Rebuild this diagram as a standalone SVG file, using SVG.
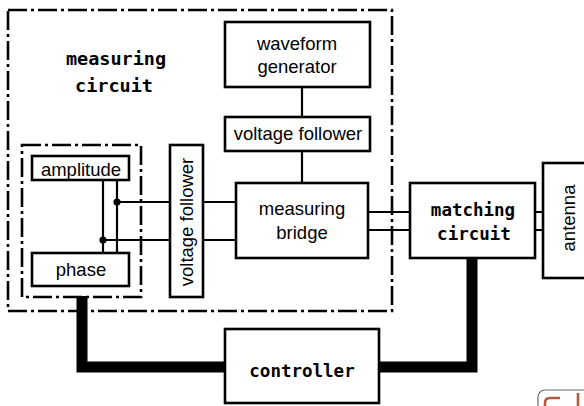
<svg xmlns="http://www.w3.org/2000/svg" width="584" height="406" viewBox="0 0 584 406">
<style>
.box{fill:#fff;stroke:#000;stroke-width:2.6}
.dd{fill:none;stroke:#000;stroke-width:2.6;stroke-dasharray:19 4 3 4}
.t{font-family:"Liberation Sans",Arial,sans-serif;font-size:18.5px;fill:#000;text-anchor:middle}
.b{font-family:"DejaVu Sans Mono","Liberation Mono",monospace;font-weight:bold;font-size:17.5px;fill:#000;text-anchor:middle}
.w{fill:none;stroke:#000;stroke-width:2.2}
.thick{fill:none;stroke:#000;stroke-width:11}
</style>
<rect width="584" height="406" fill="#fff"/>
<g id="measuring-circuit">
<rect class="dd" x="8" y="10" width="384" height="301"/>
<text class="b" x="116" y="65" style="font-size:18.5px">measuring</text>
<text class="b" x="114" y="92" style="font-size:18.5px">circuit</text>
</g>
<g id="sensor-group">
<rect class="dd" x="22" y="145" width="119" height="152"/>
</g>
<g id="connectors">
<path class="thick" d="M82,296 V367 H226"/>
<path class="thick" d="M378,367 H472 V258"/>
<path class="w" d="M103,180 V253 M117,180 V253 M117,202 H170 M103,240 H170"/>
<path class="w" d="M203,202 H236 M203,240 H236"/>
<path class="w" d="M302,87 V117 M302,151 V183"/>
<path class="w" d="M368,212 H410 M368,230 H410"/>
<path class="w" d="M535,212 H543 M535,230 H543"/>
<circle cx="117" cy="202" r="3.6"/>
<circle cx="103" cy="240" r="3.6"/>
</g>
<g id="waveform-generator">
<rect class="box" x="225" y="22" width="145" height="65"/>
<text class="t" x="297" y="50">waveform</text>
<text class="t" x="297" y="73">generator</text>
</g>
<g id="voltage-follower-h">
<rect class="box" x="225" y="117" width="145" height="34"/>
<text class="t" x="298" y="140">voltage follower</text>
</g>
<g id="amplitude">
<rect class="box" x="32" y="156" width="97" height="24"/>
<text class="t" x="81" y="176">amplitude</text>
</g>
<g id="phase">
<rect class="box" x="32" y="253" width="97" height="33"/>
<text class="t" x="81" y="276">phase</text>
</g>
<g id="voltage-follower-v">
<rect class="box" x="170" y="145" width="33" height="152"/>
<text class="t" transform="translate(193,222) rotate(-90)">voltage follower</text>
</g>
<g id="measuring-bridge">
<rect class="box" x="236" y="183" width="132" height="75"/>
<text class="t" x="302" y="215">measuring</text>
<text class="t" x="302" y="239">bridge</text>
</g>
<g id="matching-circuit">
<rect class="box" x="410" y="183" width="125" height="75"/>
<text class="b" x="473" y="216">matching</text>
<text class="b" x="474" y="240">circuit</text>
</g>
<g id="antenna">
<rect class="box" x="543" y="163" width="50" height="115"/>
<text class="t" transform="translate(575,218) rotate(-90)">antenna</text>
</g>
<g id="controller">
<rect class="box" x="225" y="329" width="154" height="74"/>
<text class="b" x="302" y="377">controller</text>
</g>
<g id="logo">
<rect x="538" y="390" width="60" height="30" rx="7" fill="none" stroke="#666" stroke-width="1.2"/>
<path d="M545,406 V403 Q545,398 550,398 H560" fill="none" stroke="#b05a40" stroke-width="2.6"/>
<path d="M578,393 V406" fill="none" stroke="#b05a40" stroke-width="2.6"/>
</g>
</svg>
